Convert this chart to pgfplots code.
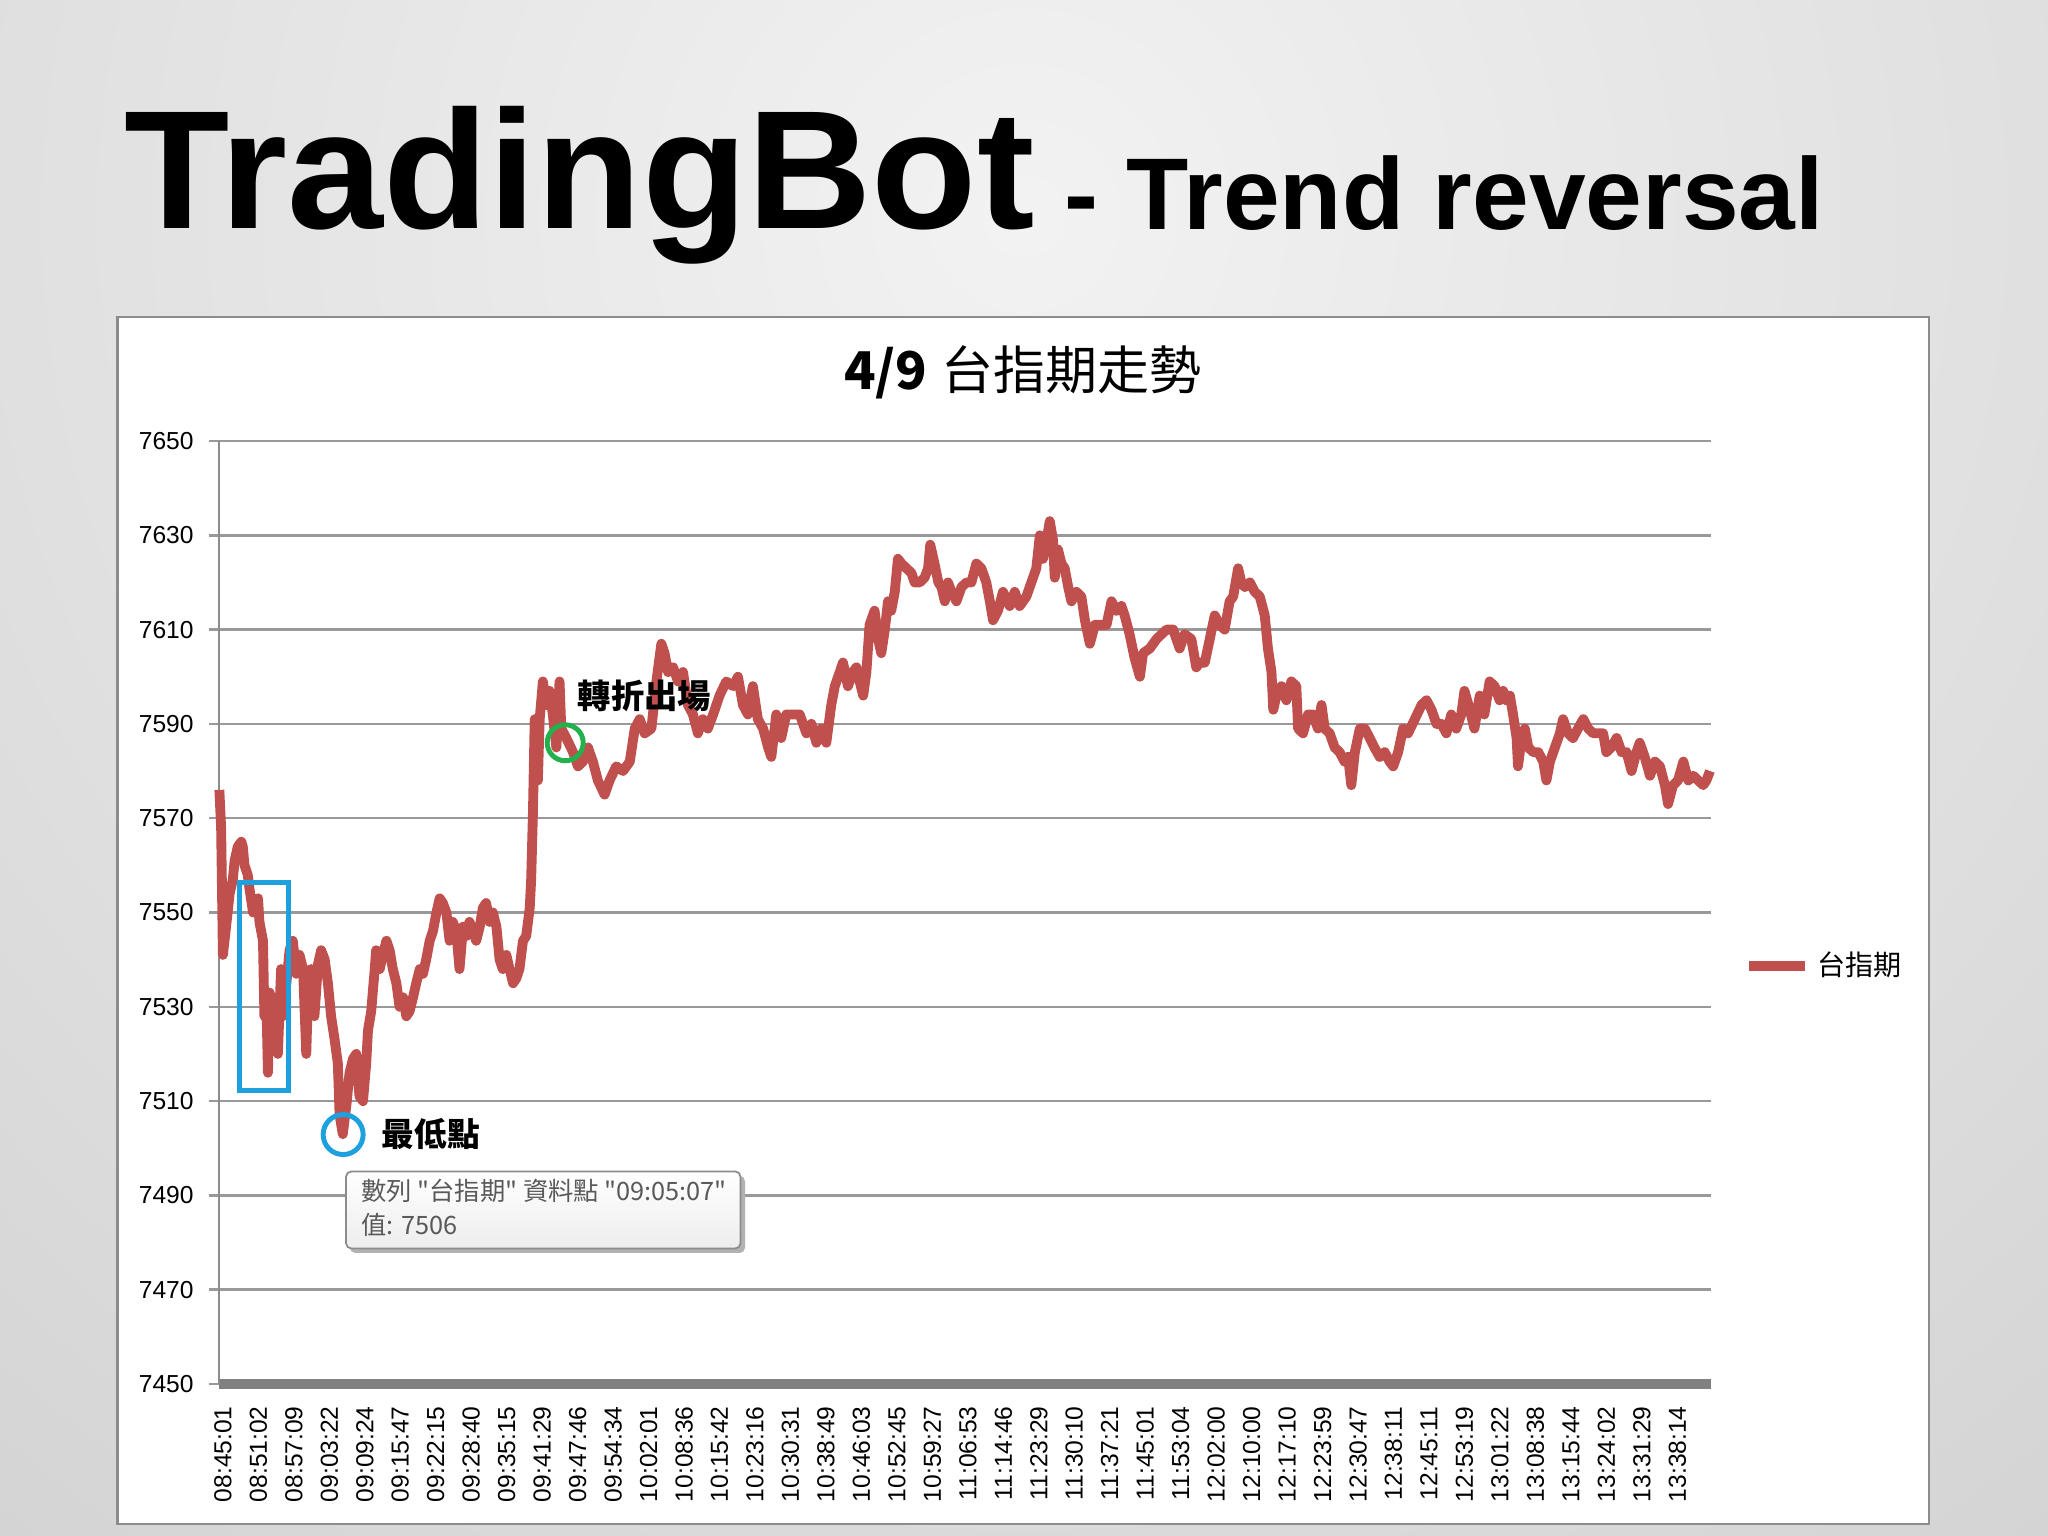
\documentclass[border=0pt]{standalone}
\usepackage{fontspec}
\setmainfont{Liberation Sans}
\newfontfamily\cjk{Noto Sans CJK TC}
\usepackage{pgfplots}
\pgfplotsset{compat=1.18}
\definecolor{twred}{RGB}{192,80,77}
\definecolor{markblue}{RGB}{28,160,222}
\definecolor{markgreen}{RGB}{34,177,76}

\begin{document}
\begin{tikzpicture}
% slide background, 1 px of the slide = 0.01 cm
\path[use as bounding box] (0,0) rectangle (20.48,15.36);
\begin{scope}
  \clip (0,0) rectangle (20.48,15.36);
  \shade[inner color=black!5, outer color=black!22] (10.24,13.2) circle (24cm);
\end{scope}

\node[anchor=base west, inner sep=0pt, font=\fontsize{48}{50}\selectfont\bfseries] at (1.24,13.075) {\scalebox{1.022}[1]{TradingBot}};
\node[anchor=base west, inner sep=0pt, font=\fontsize{29}{32}\selectfont\bfseries] at (10.64,13.06) {- Trend reversal};

% chart area
\draw[draw=black!45, line width=0.6pt, fill=white] (1.175,0.12) rectangle (19.29,12.19);
\node[inner sep=0pt] at (10.23,11.64) {\fontsize{14.8}{16}\selectfont{\cjk\bfseries 4/9} {\cjk 台指期走勢}};

\begin{axis}[
  at={(2.19cm,1.52cm)}, anchor=south west,
  scale only axis, width=14.92cm, height=9.43cm,
  xmin=-0.11, xmax=41.95, ymin=7450, ymax=7650,
  clip=false,
  axis lines=left, axis line style={-},
  x axis line style={draw=black!50, line width=3pt},
  y axis line style={draw=black!45, line width=0.6pt},
  ytick={7450,7470,...,7650},
  xtick={0,...,41},
  xticklabels={08:45:01,08:51:02,08:57:09,09:03:22,09:09:24,09:15:47,09:22:15,09:28:40,09:35:15,09:41:29,09:47:46,09:54:34,10:02:01,10:08:36,10:15:42,10:23:16,10:30:31,10:38:49,10:46:03,10:52:45,10:59:27,11:06:53,11:14:46,11:23:29,11:30:10,11:37:21,11:45:01,11:53:04,12:02:00,12:10:00,12:17:10,12:23:59,12:30:47,12:38:11,12:45:11,12:53:19,13:01:22,13:08:38,13:15:44,13:24:02,13:31:29,13:38:14},
  ymajorgrids, grid style={draw=black!40, line width=0.7pt},
  tick align=outside, major tick length=0.1cm,
  ytick style={draw=black!40, line width=0.7pt},
  xtick style={draw=none},
  /pgf/number format/1000 sep={},
  /pgf/number format/assume math mode=true,
  yticklabel style={font=\fontsize{7}{8}\selectfont, xshift=-0.03cm},
  xticklabel style={font=\fontsize{7}{8}\selectfont, rotate=90, anchor=east},
  legend style={at={(1.022,0.443)}, anchor=west, draw=none, fill=none,
    inner sep=0pt, font=\cjk\fontsize{8}{9}\selectfont},
  legend image code/.code={\draw[#1] (0cm,0cm) -- (0.56cm,0cm);},
]
\addplot[color=twred, line width=2.8pt, line join=round, mark=none] table {
x y
-0.10 7576
-0.05 7568
0.00 7541
0.09 7547
0.19 7554
0.28 7557
0.33 7561
0.42 7564
0.52 7565
0.56 7564
0.61 7560
0.70 7558
0.75 7555
0.85 7550
0.89 7551
0.99 7553
1.03 7548
1.13 7544
1.17 7528
1.22 7533
1.27 7516
1.32 7533
1.41 7528
1.50 7532
1.55 7520
1.64 7538
1.69 7528
1.79 7535
1.88 7542
1.97 7544
2.07 7537
2.16 7541
2.26 7538
2.35 7520
2.40 7533
2.49 7538
2.58 7528
2.68 7539
2.77 7542
2.87 7540
2.96 7535
3.05 7528
3.15 7523
3.24 7518
3.29 7507
3.38 7503
3.48 7509
3.57 7516
3.67 7519
3.76 7520
3.85 7511
3.95 7510
4.04 7518
4.09 7525
4.18 7529
4.28 7538
4.32 7542
4.42 7538
4.51 7541
4.61 7544
4.70 7542
4.79 7538
4.89 7535
4.98 7530
5.08 7532
5.17 7528
5.26 7529
5.36 7532
5.45 7535
5.55 7538
5.64 7537
5.73 7540
5.83 7544
5.92 7546
6.02 7550
6.11 7553
6.20 7552
6.30 7550
6.39 7544
6.48 7548
6.58 7546
6.67 7538
6.77 7547
6.86 7545
6.95 7548
7.05 7546
7.14 7544
7.24 7547
7.33 7551
7.42 7552
7.52 7548
7.61 7550
7.71 7547
7.80 7540
7.89 7538
7.99 7541
8.08 7538
8.18 7535
8.27 7536
8.36 7538
8.46 7544
8.55 7545
8.65 7551
8.69 7557
8.74 7571
8.79 7591
8.88 7578
8.93 7591
9.02 7599
9.12 7594
9.21 7597
9.30 7592
9.40 7585
9.49 7599
9.54 7589
9.68 7587
9.87 7584
10.01 7581
10.15 7582
10.29 7585
10.43 7582
10.57 7578
10.76 7575
10.90 7578
11.09 7581
11.28 7580
11.47 7582
11.61 7589
11.75 7591
11.89 7588
12.08 7589
12.22 7599
12.36 7607
12.45 7605
12.55 7601
12.69 7602
12.83 7599
12.97 7601
13.11 7594
13.25 7592
13.39 7588
13.53 7591
13.67 7589
13.82 7592
14.00 7596
14.19 7599
14.38 7598
14.52 7600
14.66 7594
14.80 7592
14.94 7598
15.08 7591
15.23 7589
15.37 7585
15.46 7583
15.60 7592
15.74 7587
15.88 7592
16.07 7592
16.26 7592
16.45 7588
16.59 7590
16.73 7586
16.87 7589
17.01 7586
17.15 7594
17.25 7598
17.39 7601
17.48 7603
17.62 7598
17.76 7601
17.86 7602
17.95 7599
18.05 7596
18.14 7601
18.23 7611
18.37 7614
18.47 7608
18.56 7605
18.66 7610
18.75 7616
18.84 7614
18.94 7618
19.03 7625
19.13 7624
19.27 7623
19.41 7622
19.50 7620
19.64 7620
19.78 7621
19.88 7623
19.94 7628
20.06 7624
20.17 7620
20.26 7619
20.35 7616
20.44 7620
20.54 7618
20.68 7616
20.82 7619
20.96 7620
21.10 7620
21.24 7624
21.38 7623
21.52 7620
21.62 7616
21.71 7612
21.85 7614
21.99 7618
22.18 7615
22.32 7618
22.46 7615
22.65 7617
22.79 7620
22.93 7623
23.03 7630
23.12 7625
23.22 7629
23.31 7633
23.40 7629
23.45 7621
23.54 7627
23.64 7624
23.73 7623
23.83 7619
23.92 7616
24.06 7618
24.20 7617
24.30 7612
24.44 7607
24.58 7611
24.72 7611
24.91 7611
25.05 7616
25.19 7614
25.33 7615
25.42 7613
25.56 7609
25.70 7604
25.85 7600
25.94 7605
26.13 7606
26.32 7608
26.46 7609
26.60 7610
26.79 7610
26.97 7606
27.11 7609
27.30 7608
27.44 7602
27.54 7603
27.68 7603
27.82 7608
27.96 7613
28.10 7611
28.24 7610
28.38 7616
28.48 7617
28.62 7623
28.71 7620
28.81 7619
28.95 7620
29.09 7618
29.23 7617
29.37 7613
29.46 7606
29.56 7601
29.61 7593
29.70 7596
29.84 7598
29.98 7595
30.12 7599
30.26 7598
30.31 7589
30.45 7588
30.59 7592
30.73 7592
30.87 7589
30.97 7594
31.06 7589
31.20 7588
31.34 7585
31.48 7584
31.62 7582
31.72 7583
31.81 7577
31.91 7584
32.05 7589
32.19 7589
32.33 7587
32.46 7585
32.61 7583
32.75 7584
32.89 7582
32.99 7581
33.13 7584
33.27 7589
33.41 7588
33.60 7591
33.79 7594
33.93 7595
34.07 7593
34.21 7590
34.35 7590
34.49 7588
34.63 7592
34.77 7589
34.91 7592
35.00 7597
35.15 7593
35.28 7589
35.43 7596
35.56 7592
35.71 7599
35.85 7598
35.99 7595
36.09 7597
36.18 7595
36.28 7596
36.37 7592
36.47 7587
36.51 7581
36.61 7587
36.70 7589
36.80 7585
36.94 7584
37.08 7584
37.22 7582
37.31 7578
37.41 7582
37.55 7585
37.69 7588
37.78 7591
37.92 7588
38.06 7587
38.20 7589
38.35 7591
38.49 7589
38.63 7588
38.77 7588
38.91 7588
39.00 7584
39.14 7585
39.29 7587
39.43 7584
39.57 7584
39.71 7580
39.85 7584
39.94 7586
40.08 7583
40.23 7579
40.37 7582
40.51 7581
40.65 7577
40.74 7573
40.88 7577
41.02 7578
41.17 7582
41.31 7578
41.45 7579
41.59 7578
41.73 7577
41.82 7578
41.92 7580
};
\addlegendentry{台指期}

% annotations
\draw[markblue, line width=1.4pt] (axis cs:0.48,7512.3) rectangle (axis cs:1.84,7556.4);
\draw[markblue, line width=1.4pt] (axis cs:3.39,7502.9) circle (0.2cm);
\node[anchor=west, inner sep=0pt, font=\cjk\fontsize{9.3}{10}\selectfont\bfseries] at (axis cs:4.46,7503) {最低點};
\draw[markgreen, line width=1.4pt] (axis cs:9.65,7586) circle (0.18cm);
\node[anchor=west, inner sep=0pt, font=\cjk\fontsize{9.5}{10}\selectfont\bfseries] at (axis cs:9.98,7596) {轉折出場};
\end{axis}

% data tooltip
\fill[black!30, rounded corners=1.5pt] (3.50,2.83) rectangle (7.45,3.60);
\shadedraw[top color=white, bottom color=black!7, draw=black!45, line width=0.5pt, rounded corners=1.5pt] (3.46,2.875) rectangle (7.405,3.645);
\node[anchor=west, inner sep=0pt, text=black!65, font=\cjk\fontsize{7.2}{8}\selectfont] at (3.605,3.45) {數列 "台指期" 資料點 "09:05:07"};
\node[anchor=west, inner sep=0pt, text=black!65, font=\cjk\fontsize{7.2}{8}\selectfont] at (3.605,3.11) {值: 7506};
\end{tikzpicture}
\end{document}
